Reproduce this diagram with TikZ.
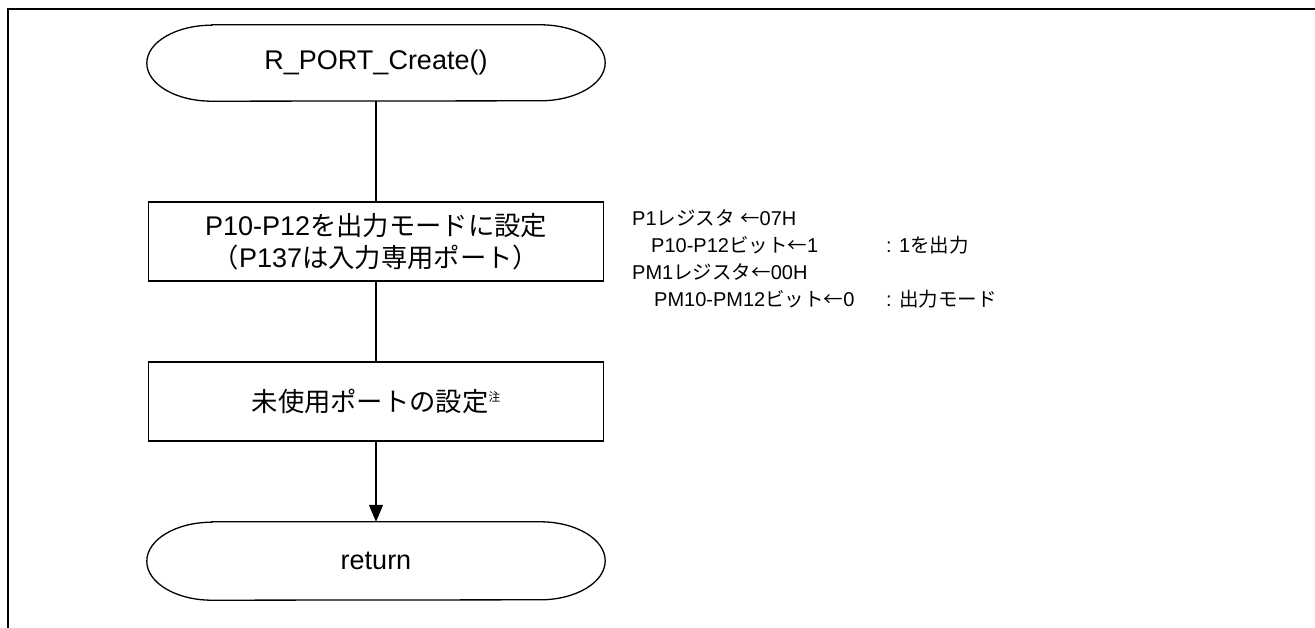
\documentclass[tikz,border=0pt]{standalone}
\usepackage{fontspec}
\setmainfont{Liberation Sans}
\newfontfamily\jpfont[Scale=0.975]{Noto Sans CJK JP}
\newcommand\J[1]{{\jpfont #1}}
\usetikzlibrary{arrows.meta}
\newcommand\stadium[3]{%
  \draw[line] ([xshift=#2]#1.north west) -- ([xshift=-#2]#1.north east)
    arc[start angle=90,end angle=-90,x radius=#2,y radius=#3]
    -- ([xshift=#2]#1.south west)
    arc[start angle=270,end angle=90,x radius=#2,y radius=#3] -- cycle;}
\begin{document}
\begin{tikzpicture}[x=1pt,y=-1pt,
  line/.style={line width=1.3pt},
  procbox/.style={draw, line width=1.3pt, minimum width=455pt, minimum height=79pt,
    inner sep=0pt, align=center, font=\fontsize{27}{32}\selectfont},
  termbox/.style={minimum width=458pt, inner sep=0pt, font=\fontsize{27}{32}\selectfont},
  note/.style={anchor=base west, inner sep=0pt, font=\fontsize{20}{27}\selectfont},
  ]
\useasboundingbox (0,0) rectangle (1315,628);
\draw[line width=2pt] (8,628) -- (8,9) -- (1315,9);

\node[termbox, minimum height=76pt] (start) at (376,63) {R\_PORT\_Create()};
\stadium{start}{65pt}{38pt}

\node[procbox] (set) at (376,241.5)
  {P10-P12\J{を出力モードに設定}\\\J{（}P137\J{は入力専用ポート）}};

\node[procbox] (unused) at (376,401.5)
  {\J{未使用ポートの設定}\raisebox{10pt}{\fontsize{12}{12}\selectfont\J{注}}};

\node[termbox, minimum height=78pt] (ret) at (376,561) {return};
\stadium{ret}{65pt}{39pt}

\draw[line] (start) -- (set);
\draw[line] (set) -- (unused);
\draw[line, -{Triangle[length=17pt,width=14pt]}] (unused) -- (ret);

\node[note] (l1) at (632,226) {P1\J{レジスタ} \J{←}07H};
\node[note] (l2) at (651,253) {P10-P12\J{ビット←}1};
\node[note] (l2c) at (886,253) {: 1\J{を出力}};
\node[note] (l3) at (632,280) {PM1\J{レジスタ←}00H};
\node[note] (l4) at (654,307) {PM10-PM12\J{ビット←}0};
\node[note] (l4c) at (886,307) {: \J{出力モード}};
\end{tikzpicture}
\end{document}
